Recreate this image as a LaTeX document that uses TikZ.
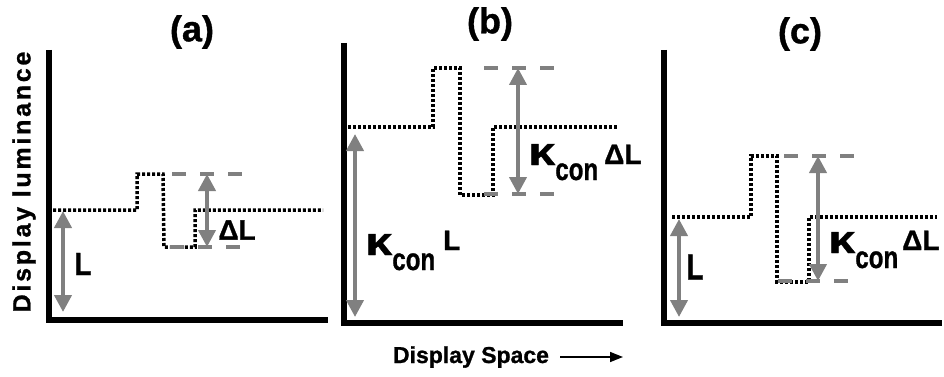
\documentclass[tikz,border=0pt]{standalone}
\usepackage{fontspec}
\setmainfont{Liberation Sans}[BoldFeatures={FakeBold=1}]
\usepackage{graphicx}
\usepackage{tikz}
\usepackage{tkz-euclide}
\usetikzlibrary{arrows.meta}
\definecolor{guidegray}{RGB}{128,128,128}
\newcommand{\kcon}{{\fontsize{36}{36}\selectfont\scalebox{1.35}[1.1]{κ}}\raisebox{-15pt}{\fontsize{23}{23}\selectfont\scalebox{1.05}[1.35]{con}}}
\tikzset{
  axisline/.style={line width=5.5pt,line join=miter},
  signal/.style={line width=3.5pt,dash pattern=on 3pt off 2pt},
  guide/.style={guidegray,line width=3.5pt,dash pattern=on 14pt off 14pt},
  span/.style={guidegray,line width=4pt,{Triangle[length=17pt,width=17pt]}-{Triangle[length=17pt,width=17pt]}},
  lbl/.style={inner sep=0pt,font=\bfseries\fontsize{28}{28}\selectfont},
  title/.style={inner sep=0pt,font=\bfseries\fontsize{36}{36}\selectfont},
}
\begin{document}
\begin{tikzpicture}[x=1pt,y=-1pt]
  \useasboundingbox (0,0) rectangle (944,377);

  % panel (a)
  \tkzDefPoints{49/50/Ya,49/320/Oa,328/320/Xa}
  \tkzDefPoints{53/210/a1,137/210/a2,137/174/a3,163/174/a4,164/247/a5,195/247/a6,195/210/a7,323/210/a8}
  \tkzDefPoints{172/174/ta,243/174/ua,170/247/va,242/247/wa,207/174/pa,207/247/qa,63/211/ma,63/312/na}
  \draw[axisline] (Ya) -- (Oa) -- (Xa);
  \draw[signal] (a1) -- (a2) -- (a3) -- (a4) -- (a5) -- (a6) -- (a7) -- (a8);
  \draw[guide] (ta) -- (ua) (va) -- (wa);
  \draw[span] (pa) -- (qa);
  \draw[span] (ma) -- (na);
  \node[title] (ttla) at (192,32) {(a)};
  \node[lbl] (dla) at (237,230) {ΔL};
  \node[lbl] (la) at (83,264) {\scalebox{1}[1.15]{L}};

  % panel (b)
  \tkzDefPoints{344/43/Yb,344/323/Ob,623/323/Xb}
  \tkzDefPoints{348/127/b1,433/127/b2,433/68/b3,460/68/b4,460/195/b5,493/195/b6,493/127/b7,618/127/b8}
  \tkzDefPoints{484/68/tb,554/68/ub,484/194/vb,554/194/wb,518/68/pb,518/194/qb,355/134/mb,355/317/nb}
  \draw[axisline] (Yb) -- (Ob) -- (Xb);
  \draw[signal] (b1) -- (b2) -- (b3) -- (b4) -- (b5) -- (b6) -- (b7) -- (b8);
  \draw[guide] (tb) -- (ub) (vb) -- (wb);
  \draw[span] (pb) -- (qb);
  \draw[span] (mb) -- (nb);
  \node[title] (ttlb) at (490,24) {(b)};
  \node[lbl,anchor=base west] (kdb) at (528,165) {\kcon\hspace{6pt}\raisebox{1pt}{ΔL}};
  \node[lbl,anchor=base west] (kb) at (365,255) {\kcon\hspace{8pt}\raisebox{5pt}{L}};

  % panel (c)
  \tkzDefPoints{664/50/Yc,664/323/Oc,942/323/Xc}
  \tkzDefPoints{672/217/c1,751/217/c2,751/156/c3,777/156/c4,777/282/c5,809/282/c6,809/217/c7,937/217/c8}
  \tkzDefPoints{784/156/tc,855/156/uc,778/281/vc,855/281/wc,818/156/pc,818/281/qc,679/219/mc,679/317/nc}
  \draw[axisline] (Yc) -- (Oc) -- (Xc);
  \draw[signal] (c1) -- (c2) -- (c3) -- (c4) -- (c5) -- (c6) -- (c7) -- (c8);
  \draw[guide] (tc) -- (uc) (vc) -- (wc);
  \draw[span] (pc) -- (qc);
  \draw[span] (mc) -- (nc);
  \node[title] (ttlc) at (800,34) {(c)};
  \node[lbl,anchor=base west] (kdc) at (828,253) {\kcon\hspace{4pt}\raisebox{3pt}{ΔL}};
  \node[lbl] (lc) at (695,267) {\scalebox{1}[1.3]{L}};

  % axis captions
  \node[rotate=90,inner sep=0pt,font=\bfseries\fontsize{25}{25}\selectfont] (ylbl) at (24,182)
    {\addfontfeature{LetterSpace=11}Display luminance};
  \node[anchor=base,inner sep=0pt,font=\bfseries\fontsize{23}{23}\selectfont] (xlbl) at (471,363) {Display Space};
  \tkzDefPoints{560/357/xs,623/357/xe}
  \draw[line width=1.5pt,-{Triangle[length=13pt,width=10pt]}] (xs) -- (xe);
\end{tikzpicture}
\end{document}
